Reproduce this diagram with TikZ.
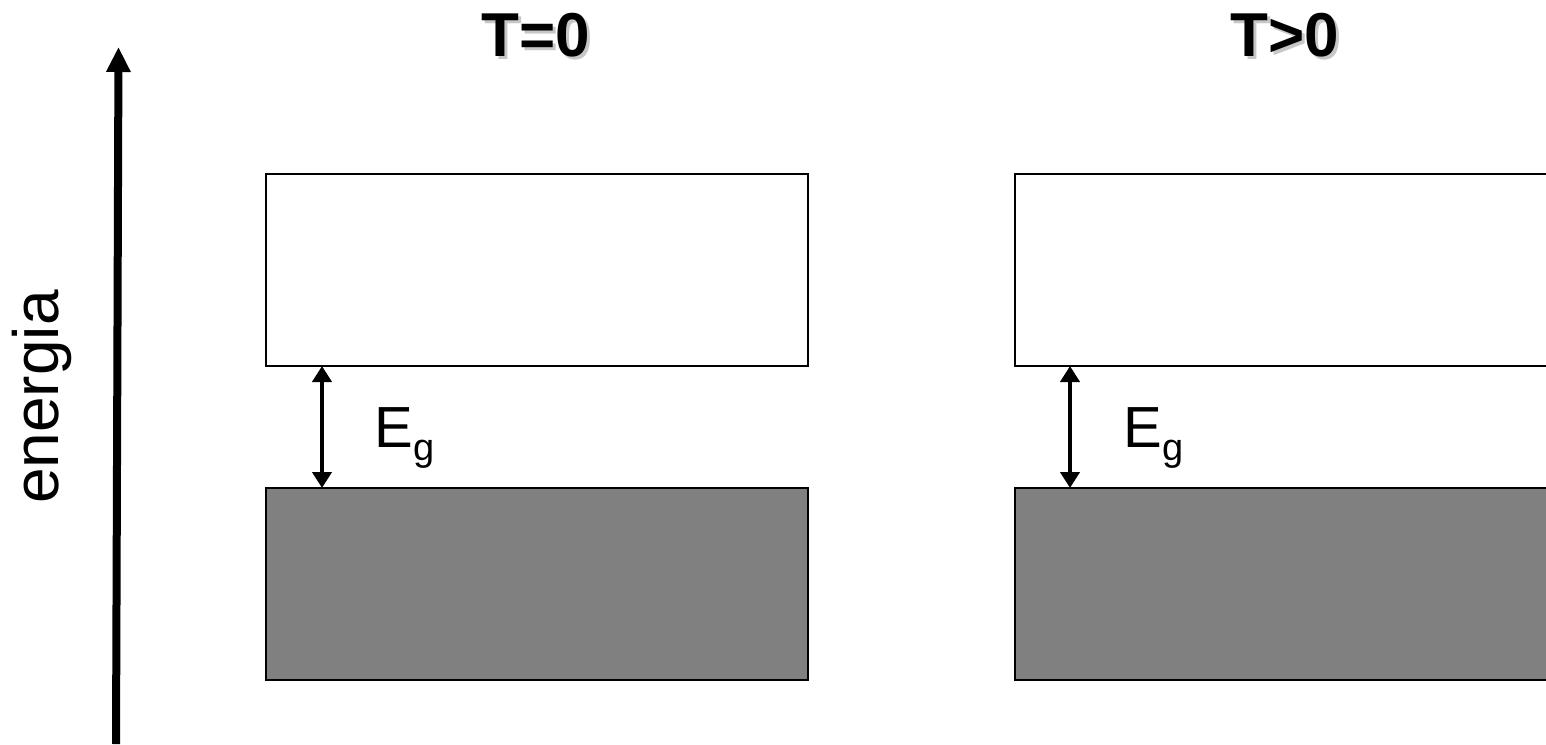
\documentclass[tikz,border=0pt]{standalone}
\usepackage{fontspec}
\setmainfont{Liberation Sans}
\usetikzlibrary{arrows.meta,positioning,calc}

\begin{document}
\begin{tikzpicture}[
x=0.5pt, y=-0.5pt,
band/.style={draw, line width=1.2pt, minimum width=271pt, minimum height=96pt, inner sep=0pt, outer sep=0pt, anchor=north west},
cband/.style={band, fill=white},
vband/.style={band, fill=gray},
title/.style={font=\fontsize{31}{37}\selectfont\bfseries, inner sep=0pt},
shade/.style={title, text=black!22},
gaplabel/.style={font=\fontsize{29}{35}\selectfont, anchor=base west, inner sep=0pt},
gaparrow/.style={{Triangle[width=9.5pt,length=8pt]}-{Triangle[width=9.5pt,length=8pt]}, line width=2pt},
axis/.style={-{Triangle[width=11.5pt,length=12.5pt]}, line width=4pt}
]
\useasboundingbox (0,0) rectangle (1546,744);
\clip (0,0) rectangle (1546,744);

% energy axis
\coordinate (ax0) at (116,744);
\coordinate (ax1) at (118.5,47);
\draw[axis] (ax0) -- (ax1);
\node[rotate=90, anchor=base, inner sep=0pt, font=\fontsize{32}{38}\selectfont] (elab) at (58,397) {energia};

% T=0
\node[shade] (t0s) at (539,38) {T=0};
\node[title] (t0) at (536,35) {T=0};
\node[cband] (cb1) at (266,174) {};
\node[vband] (vb1) at (266,488) {};
\coordinate (g1) at (322,0);
\draw[gaparrow] (g1 |- cb1.south) -- (g1 |- vb1.north);
\node[gaplabel] (eg1) at (374,447) {E\raisebox{-6.5pt}{\fontsize{19}{23}\selectfont g}};

% T>0
\node[shade] (t1s) at (1288,38) {T>0};
\node[title] (t1) at (1285,35) {T>0};
\node[cband] (cb2) at (1015,174) {};
\node[vband] (vb2) at (1015,488) {};
\coordinate (g2) at (1070,0);
\draw[gaparrow] (g2 |- cb2.south) -- (g2 |- vb2.north);
\node[gaplabel] (eg2) at (1123,447) {E\raisebox{-6.5pt}{\fontsize{19}{23}\selectfont g}};
\end{tikzpicture}
\end{document}
